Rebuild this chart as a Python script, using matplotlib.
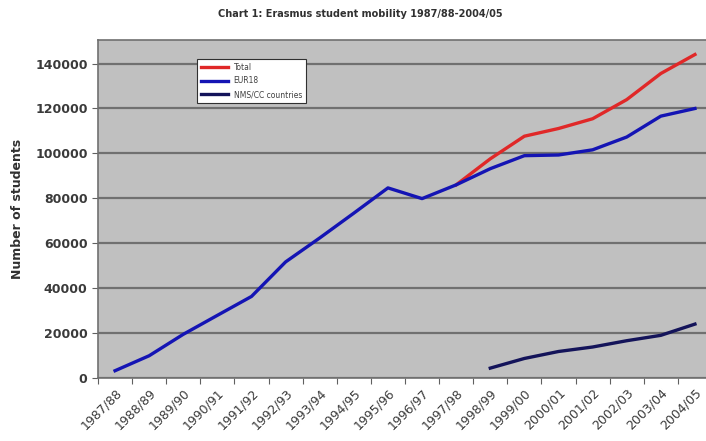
import matplotlib
matplotlib.use('Agg')
import matplotlib.pyplot as plt
import numpy as np

years = ["1987/88", "1988/89", "1989/90", "1990/91", "1991/92", "1992/93",
         "1993/94", "1994/95", "1995/96", "1996/97", "1997/98", "1998/99",
         "1999/00", "2000/01", "2001/02", "2002/03", "2003/04", "2004/05"]

# total from 1997/98 on (before that it equals EUR18)
total = [None] * 10 + [85999, 97601, 107666, 111092, 115432, 123957, 135586, 144037]
eur18 = [3244, 9914, 19456, 27906, 36314, 51694, 62362, 73407, 84642, 79874,
         85999, 93200, 99000, 99300, 101600, 107300, 116600, 120000]
nms = [None] * 11 + [4400, 8700, 11800, 13800, 16600, 19000, 24000]

y_ticks = [0, 20000, 40000, 60000, 80000, 100000, 120000, 140000]

fig = plt.figure(figsize=(7.06, 4.41), dpi=100)
ax = fig.add_axes([98 / 706, 63 / 441, 614 / 706, 338 / 441])
ax.set_facecolor('#c0c0c0')

x = np.arange(len(years))
t = np.array([np.nan if v is None else v for v in total], dtype=float)
n = np.array([np.nan if v is None else v for v in nms], dtype=float)

ax.plot(x, t, color='#e02828', linewidth=2.4, label='Total', zorder=3)
ax.plot(x, eur18, color='#1414b4', linewidth=2.4, label='EUR18', zorder=4)
ax.plot(x, n, color='#14145a', linewidth=2.4, label='NMS/CC countries', zorder=4)

ax.set_xlim(-0.5, len(years) - 0.5)
ax.set_ylim(0, 150500)
ax.set_yticks(y_ticks)
ax.set_yticklabels([str(v) for v in y_ticks], fontsize=9, color='#3a3a3a', fontweight='bold')
ax.yaxis.grid(True, color='#707070', linewidth=1.6)
ax.set_axisbelow(True)

ax.set_xticks(np.arange(len(years) + 1) - 0.5, minor=False)
ax.set_xticklabels([])
ax.set_xticks(x, minor=True)
ax.set_xticklabels(years, minor=True, rotation=45, ha='right', rotation_mode='anchor',
                   fontsize=9, color='#3a3a3a')
ax.tick_params(axis='x', which='minor', length=0, pad=6)
ax.tick_params(axis='x', which='major', length=4, color='#606060')
ax.tick_params(axis='y', length=4, color='#606060')

for s in ax.spines.values():
    s.set_color('#707070')
    s.set_linewidth(1.2)

ax.set_ylabel('Number of students', fontsize=9, fontweight='bold', color='#303030', labelpad=8)
fig.text(0.51, 0.962, 'Chart 1: Erasmus student mobility 1987/88-2004/05', ha='center',
         fontsize=7, fontweight='bold', color='#303030')

leg = ax.legend(loc='upper left', bbox_to_anchor=(0.155, 0.955), fontsize=5.5,
                frameon=True, fancybox=False, handlelength=3.5, borderpad=0.5,
                labelspacing=0.6, framealpha=1)
leg.get_frame().set_facecolor('white')
leg.get_frame().set_edgecolor('#303030')
leg.get_frame().set_linewidth(0.8)
for txt in leg.get_texts():
    txt.set_color('#404040')

fig.savefig('out.png', dpi=100)
